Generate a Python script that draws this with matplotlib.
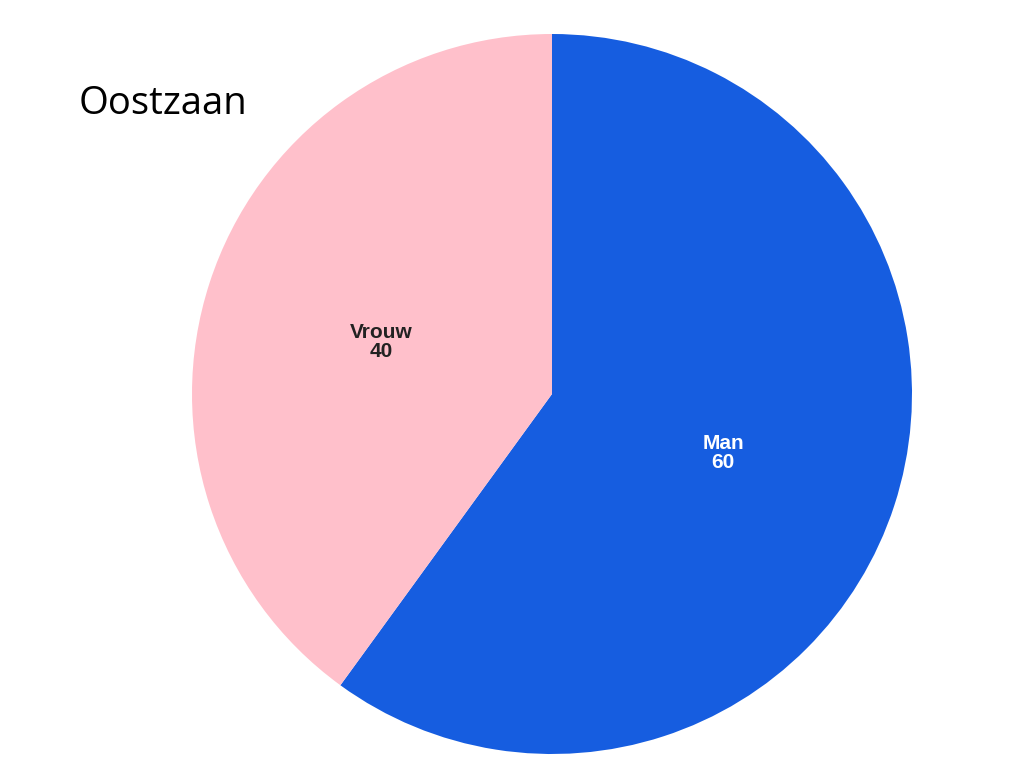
import matplotlib
import matplotlib.pyplot as plt

matplotlib.use('Agg')

labels = ["Man", "Vrouw"]
values = [60, 40]
colors = ["#165DE0", "#FFC0CB"]
text_colors = ["white", "#222222"]
title = "Oostzaan"

fig = plt.figure(figsize=(10.24, 7.72), dpi=100)
ax = fig.add_axes([192 / 1024, 18 / 772, 720 / 1024, 720 / 772])

wedges, texts = ax.pie(values, labels=[f"{l}\n{v}" for l, v in zip(labels, values)],
                       colors=colors, startangle=90, counterclock=False,
                       labeldistance=0.5, radius=1.0)
for t, c in zip(texts, text_colors):
    t.set_color(c)
    t.set_fontsize(15)
    t.set_fontweight("bold")
    t.set_family("Liberation Sans")
    t.set_ha("center")
    t.set_va("center")
    t.set_linespacing(1.0)
    x, y = t.get_position()
    t.set_position((x, y - 0.01))

ax.set_xlim(-1, 1)
ax.set_ylim(-1, 1)
ax.set_aspect("equal")

fig.text(79 / 1024, 1 - 104 / 772, title, fontsize=27.5, family="Open Sans",
         ha="left", va="center", color="black")

fig.savefig("out.png", dpi=100)
